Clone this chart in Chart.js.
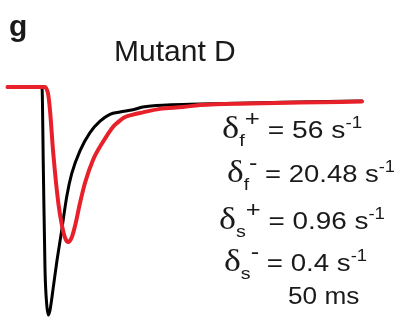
<!DOCTYPE html>
<html>
<head>
<meta charset="utf-8">
<script src="https://cdn.jsdelivr.net/npm/chart.js@4/dist/chart.umd.min.js"></script>
<style>
  html, body { margin: 0; padding: 0; background: #fff; }
  #wrap { position: relative; width: 398px; height: 318px; overflow: hidden; }
  canvas { position: absolute; left: 0; top: 0; }
  .t { position: absolute; font-family: Arial, "Liberation Sans", sans-serif; color: #1a1a1a; white-space: nowrap; line-height: 24px; font-size: 24px; }
  .s { transform-origin: 0 0; }
  .d { font-family: "Times New Roman", "Liberation Serif", serif; font-size: 31px; }
  .t sub, .t sup { line-height: 0; position: relative; vertical-align: baseline; }
  .t sub { font-size: 17px; top: 8px; }
  .t sup.pm { font-size: 22px; top: -12px; }
  .t sup.u { font-size: 16px; top: -10px; }
</style>
</head>
<body>
<div id="wrap">
<canvas id="c" width="398" height="318"></canvas>
<div class="t" style="left:9px;top:11px;font-weight:bold;font-size:30px;line-height:30px;">g</div>
<div class="t" style="left:114px;top:36px;font-size:30px;line-height:30px;">Mutant D</div>
<div class="t s" data-w="140" style="left:222px;top:116px;"><span class="d">δ</span><sub>f</sub><sup class="pm">+</sup> = 56 s<sup class="u">-1</sup></div>
<div class="t s" data-w="168" style="left:227px;top:160px;"><span class="d">δ</span><sub>f</sub><sup class="pm">-</sup> = 20.48 s<sup class="u">-1</sup></div>
<div class="t s" data-w="166" style="left:219px;top:207px;"><span class="d">δ</span><sub>s</sub><sup class="pm">+</sup> = 0.96 s<sup class="u">-1</sup></div>
<div class="t s" data-w="143" style="left:224px;top:249px;"><span class="d">δ</span><sub>s</sub><sup class="pm">-</sup> = 0.4 s<sup class="u">-1</sup></div>
<div class="t s" data-w="71" style="left:288px;top:284px;">50 ms</div>
</div>
<script>
// Time in ms (stimulus at 0), normalized current (peak of black trace = -1)
const blackTime    = [-23, 0, 0.9, 2, 3.1, 4.2, 5.3, 7.5, 9.8, 13.1, 16.5, 19.8, 25.3, 32, 38.7, 45.3, 52, 60.7, 67.3, 83.3, 105.3, 138.7, 172, 213.3];
const blackCurrent = [0, 0, -0.36, -0.80, -0.95, -1.00, -0.98, -0.88, -0.77, -0.63, -0.48, -0.38, -0.28, -0.20, -0.15, -0.12, -0.11, -0.10, -0.088, -0.079, -0.075, -0.070, -0.066, -0.061];
const redTime      = [-23, 0, 2, 3.1, 4.2, 5.3, 7.5, 10.9, 13.1, 15.3, 17.5, 19.8, 22, 25.3, 28.7, 34, 40.7, 47.3, 50, 54.7, 60.7, 65.3, 78.7, 94, 105.3, 138.7, 172, 213.3];
const redCurrent   = [0, 0, 0, -0.01, -0.035, -0.10, -0.29, -0.51, -0.60, -0.66, -0.68, -0.66, -0.61, -0.51, -0.42, -0.32, -0.24, -0.175, -0.158, -0.134, -0.121, -0.114, -0.096, -0.088, -0.079, -0.072, -0.068, -0.064];

const pts = (xs, ys) => xs.map((x, i) => ({ x, y: ys[i] }));

// Fit annotation lines to their measured widths in the figure
document.querySelectorAll('.s').forEach(el => {
  const target = parseFloat(el.dataset.w);
  const w = el.offsetWidth;
  if (w > 0) el.style.transform = 'scaleX(' + (target / w).toFixed(3) + ')';
});

new Chart(document.getElementById('c'), {
  type: 'line',
  data: {
    datasets: [
      { label: 'Mutant D', data: pts(redTime, redCurrent), borderColor: '#e8202a', borderWidth: 4, order: 0,
        cubicInterpolationMode: 'monotone', pointRadius: 0, borderCapStyle: 'round', borderJoinStyle: 'round', fill: false },
      { label: 'Control', data: pts(blackTime, blackCurrent), borderColor: '#000000', borderWidth: 3, order: 1,
        cubicInterpolationMode: 'monotone', pointRadius: 0, borderCapStyle: 'round', borderJoinStyle: 'round', fill: false }
    ]
  },
  options: {
    responsive: false,
    animation: false,
    layout: { padding: 0 },
    plugins: { legend: { display: false }, tooltip: { enabled: false }, title: { display: false } },
    scales: {
      x: { type: 'linear', display: false, min: -28, max: 237.33 },
      y: { type: 'linear', display: false, min: -1.0132, max: 0.3816 }
    }
  }
});
</script>
</body>
</html>
